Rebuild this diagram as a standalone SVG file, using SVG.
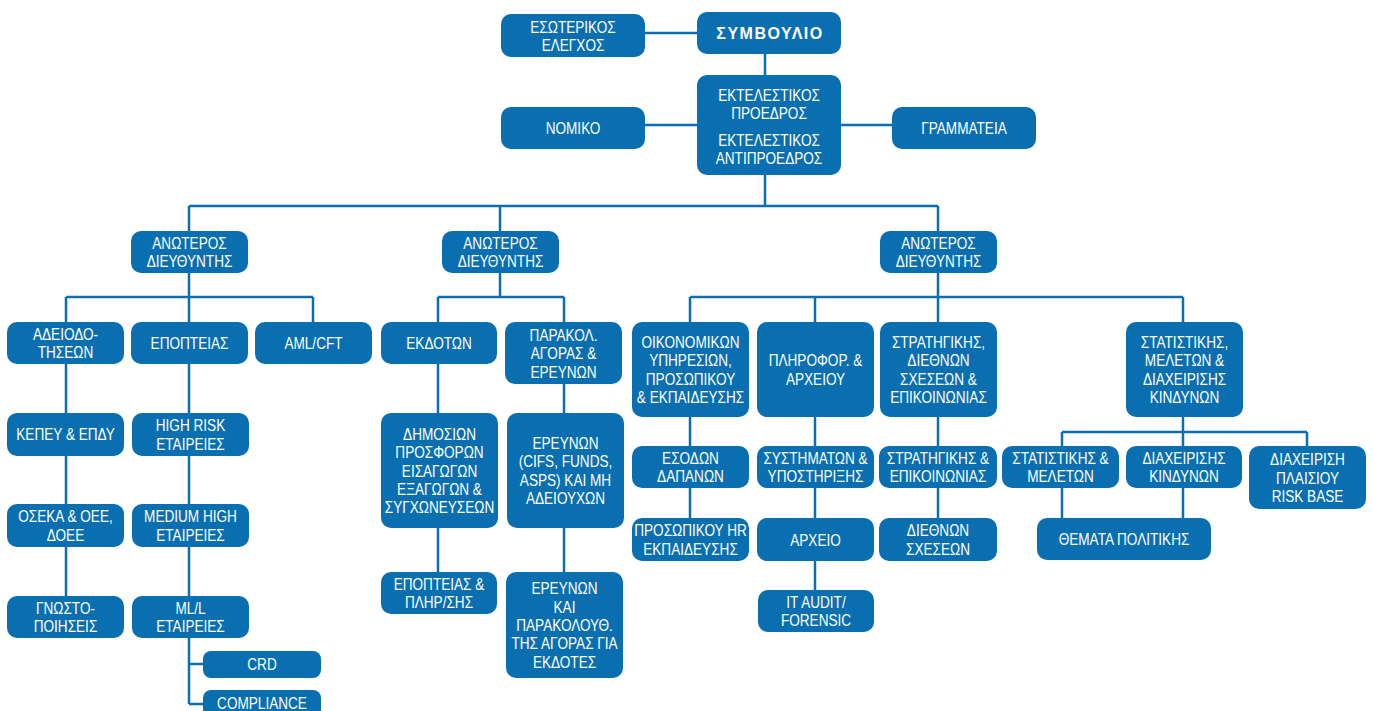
<svg xmlns="http://www.w3.org/2000/svg" width="1373" height="711" viewBox="0 0 1373 711">
<style>
.n rect{fill:#0a6fb0;}
.n text{fill:#ffffff;font-family:"Liberation Sans",Arial,sans-serif;font-size:17px;text-anchor:middle;}
.b text{font-weight:bold;font-size:16px;letter-spacing:1.5px;}
#connectors path{stroke:#0a6fb0;stroke-width:2.5;fill:none;}
</style>
<rect width="1373" height="711" fill="#ffffff"/>
<g id="connectors">
<path d="M645,33H697M765,54V75M645,125H697M841,125H892M765,175V206M189,206H938M189,206V231M500,206V231M938,206V231"/>
<path d="M189,273V297M66,297H313M66,297V322M189,297V322M313,297V322M66,364V596M189,364V704M189,664H203M189,704H203"/>
<path d="M500,273V297M438,297H564M438,297V322M564,297V322M438,364V572M564,384V572"/>
<path d="M938,273V297M690,297H1183M690,297V322M815,297V322M938,297V322M1183,297V322M690,417V518M815,417V590M938,417V518M1183,417V518M1062,432H1307M1062,432V446M1307,432V446M1062,488V518"/>
</g>
<g id="esoterikos" class="n"><rect x="501" y="14" width="144" height="43" rx="10"/><g transform="translate(573 0) scale(0.8 1)"><text x="0" y="33">ΕΣΩΤΕΡΙΚΟΣ</text><text x="0" y="51.5">ΕΛΕΓΧΟΣ</text></g></g>
<g id="symvoulio" class="n b"><rect x="697" y="12" width="144" height="42" rx="10"/><text x="770" y="39">ΣΥΜΒΟΥΛΙΟ</text></g>
<g id="ektelestikos" class="n"><rect x="697" y="75" width="144" height="100" rx="10"/><g transform="translate(769 0) scale(0.8 1)"><text x="0" y="101">ΕΚΤΕΛΕΣΤΙΚΟΣ</text><text x="0" y="119.5">ΠΡΟΕΔΡΟΣ</text><text x="0" y="146">ΕΚΤΕΛΕΣΤΙΚΟΣ</text><text x="0" y="164.5">ΑΝΤΙΠΡΟΕΔΡΟΣ</text></g></g>
<g id="nomiko" class="n"><rect x="501" y="107" width="144" height="42" rx="10"/><g transform="translate(573 0) scale(0.8 1)"><text x="0" y="134">ΝΟΜΙΚΟ</text></g></g>
<g id="grammateia" class="n"><rect x="892" y="107" width="144" height="42" rx="10"/><g transform="translate(964 0) scale(0.8 1)"><text x="0" y="134">ΓΡΑΜΜΑΤΕΙΑ</text></g></g>
<g id="anoteros1" class="n"><rect x="131" y="231" width="117" height="42" rx="10"/><g transform="translate(189.5 0) scale(0.8 1)"><text x="0" y="249">ΑΝΩΤΕΡΟΣ</text><text x="0" y="267.5">ΔΙΕΥΘΥΝΤΗΣ</text></g></g>
<g id="anoteros2" class="n"><rect x="442" y="231" width="117" height="42" rx="10"/><g transform="translate(500.5 0) scale(0.8 1)"><text x="0" y="249">ΑΝΩΤΕΡΟΣ</text><text x="0" y="267.5">ΔΙΕΥΘΥΝΤΗΣ</text></g></g>
<g id="anoteros3" class="n"><rect x="880" y="231" width="117" height="42" rx="10"/><g transform="translate(938.5 0) scale(0.8 1)"><text x="0" y="249">ΑΝΩΤΕΡΟΣ</text><text x="0" y="267.5">ΔΙΕΥΘΥΝΤΗΣ</text></g></g>
<g id="adeiodotiseon" class="n"><rect x="7" y="322" width="117" height="42" rx="10"/><g transform="translate(65.5 0) scale(0.8 1)"><text x="0" y="340">ΑΔΕΙΟΔΟ-</text><text x="0" y="358.5">ΤΗΣΕΩΝ</text></g></g>
<g id="epopteias" class="n"><rect x="131" y="322" width="117" height="42" rx="10"/><g transform="translate(189.5 0) scale(0.8 1)"><text x="0" y="349">ΕΠΟΠΤΕΙΑΣ</text></g></g>
<g id="amlcft" class="n"><rect x="255" y="322" width="117" height="42" rx="10"/><g transform="translate(313.5 0) scale(0.8 1)"><text x="0" y="349">AML/CFT</text></g></g>
<g id="ekdoton" class="n"><rect x="381" y="322" width="116" height="42" rx="10"/><g transform="translate(439 0) scale(0.8 1)"><text x="0" y="349">ΕΚΔΟΤΩΝ</text></g></g>
<g id="parakol" class="n"><rect x="505" y="322" width="117" height="62" rx="10"/><g transform="translate(563.5 0) scale(0.8 1)"><text x="0" y="341">ΠΑΡΑΚΟΛ.</text><text x="0" y="359.3">ΑΓΟΡΑΣ &amp;</text><text x="0" y="377.6">ΕΡΕΥΝΩΝ</text></g></g>
<g id="oikonomikon" class="n"><rect x="632" y="322" width="117" height="95" rx="10"/><g transform="translate(690.5 0) scale(0.8 1)"><text x="0" y="348">ΟΙΚΟΝΟΜΙΚΩΝ</text><text x="0" y="366.3">ΥΠΗΡΕΣΙΩΝ,</text><text x="0" y="384.6">ΠΡΟΣΩΠΙΚΟΥ</text><text x="0" y="402.9">&amp; ΕΚΠΑΙΔΕΥΣΗΣ</text></g></g>
<g id="pliroforikis" class="n"><rect x="757" y="322" width="117" height="95" rx="10"/><g transform="translate(815.5 0) scale(0.8 1)"><text x="0" y="366.5">ΠΛΗΡΟΦΟΡ. &amp;</text><text x="0" y="384.8">ΑΡΧΕΙΟΥ</text></g></g>
<g id="stratigikis" class="n"><rect x="880" y="322" width="117" height="95" rx="10"/><g transform="translate(938.5 0) scale(0.8 1)"><text x="0" y="348">ΣΤΡΑΤΗΓΙΚΗΣ,</text><text x="0" y="366.3">ΔΙΕΘΝΩΝ</text><text x="0" y="384.6">ΣΧΕΣΕΩΝ &amp;</text><text x="0" y="402.9">ΕΠΙΚΟΙΝΩΝΙΑΣ</text></g></g>
<g id="statistikis" class="n"><rect x="1126" y="322" width="117" height="95" rx="10"/><g transform="translate(1184.5 0) scale(0.8 1)"><text x="0" y="348">ΣΤΑΤΙΣΤΙΚΗΣ,</text><text x="0" y="366.3">ΜΕΛΕΤΩΝ &amp;</text><text x="0" y="384.6">ΔΙΑΧΕΙΡΙΣΗΣ</text><text x="0" y="402.9">ΚΙΝΔΥΝΩΝ</text></g></g>
<g id="kepey" class="n"><rect x="7" y="413" width="117" height="43" rx="10"/><g transform="translate(65.5 0) scale(0.8 1)"><text x="0" y="440.5">ΚΕΠΕΥ &amp; ΕΠΔΥ</text></g></g>
<g id="highrisk" class="n"><rect x="132" y="413" width="117" height="43" rx="10"/><g transform="translate(190.5 0) scale(0.8 1)"><text x="0" y="431.5">HIGH RISK</text><text x="0" y="449.8">ΕΤΑΙΡΕΙΕΣ</text></g></g>
<g id="dimosion" class="n"><rect x="381" y="413" width="117" height="115" rx="10"/><g transform="translate(439.5 0) scale(0.8 1)"><text x="0" y="440">ΔΗΜΟΣΙΩΝ</text><text x="0" y="458.3">ΠΡΟΣΦΟΡΩΝ</text><text x="0" y="476.6">ΕΙΣΑΓΩΓΩΝ</text><text x="0" y="494.9">ΕΞΑΓΩΓΩΝ &amp;</text><text x="0" y="513.2">ΣΥΓΧΩΝΕΥΣΕΩΝ</text></g></g>
<g id="erevnon" class="n"><rect x="507" y="413" width="117" height="115" rx="10"/><g transform="translate(565.5 0) scale(0.8 1)"><text x="0" y="449.2">ΕΡΕΥΝΩΝ</text><text x="0" y="467.5">(CIFS, FUNDS,</text><text x="0" y="485.8">ASPS) ΚΑΙ ΜΗ</text><text x="0" y="504.1">ΑΔΕΙΟΥΧΩΝ</text></g></g>
<g id="esodon" class="n"><rect x="632" y="446" width="117" height="42" rx="10"/><g transform="translate(690.5 0) scale(0.8 1)"><text x="0" y="464">ΕΣΟΔΩΝ</text><text x="0" y="482.3">ΔΑΠΑΝΩΝ</text></g></g>
<g id="systimaton" class="n"><rect x="757" y="446" width="117" height="42" rx="10"/><g transform="translate(815.5 0) scale(0.8 1)"><text x="0" y="464">ΣΥΣΤΗΜΑΤΩΝ &amp;</text><text x="0" y="482.3">ΥΠΟΣΤΗΡΙΞΗΣ</text></g></g>
<g id="stratepik" class="n"><rect x="879" y="446" width="118" height="42" rx="10"/><g transform="translate(938 0) scale(0.8 1)"><text x="0" y="464">ΣΤΡΑΤΗΓΙΚΗΣ &amp;</text><text x="0" y="482.3">ΕΠΙΚΟΙΝΩΝΙΑΣ</text></g></g>
<g id="statmeleton" class="n"><rect x="1002" y="446" width="117" height="42" rx="10"/><g transform="translate(1060.5 0) scale(0.8 1)"><text x="0" y="464">ΣΤΑΤΙΣΤΙΚΗΣ &amp;</text><text x="0" y="482.3">ΜΕΛΕΤΩΝ</text></g></g>
<g id="diaxkindynon" class="n"><rect x="1126" y="446" width="116" height="42" rx="10"/><g transform="translate(1184 0) scale(0.8 1)"><text x="0" y="464">ΔΙΑΧΕΙΡΙΣΗΣ</text><text x="0" y="482.3">ΚΙΝΔΥΝΩΝ</text></g></g>
<g id="plaisio" class="n"><rect x="1249" y="446" width="117" height="63" rx="10"/><g transform="translate(1307.5 0) scale(0.8 1)"><text x="0" y="465.3">ΔΙΑΧΕΙΡΙΣΗ</text><text x="0" y="483.6">ΠΛΑΙΣΙΟΥ</text><text x="0" y="501.9">RISK BASE</text></g></g>
<g id="oseka" class="n"><rect x="7" y="504" width="117" height="43" rx="10"/><g transform="translate(65.5 0) scale(0.8 1)"><text x="0" y="522.5">ΟΣΕΚΑ &amp; ΟΕΕ,</text><text x="0" y="540.8">ΔΟΕΕ</text></g></g>
<g id="mediumhigh" class="n"><rect x="132" y="504" width="117" height="43" rx="10"/><g transform="translate(190.5 0) scale(0.8 1)"><text x="0" y="522.5">MEDIUM HIGH</text><text x="0" y="540.8">ΕΤΑΙΡΕΙΕΣ</text></g></g>
<g id="prosopikou" class="n"><rect x="632" y="518" width="117" height="43" rx="10"/><g transform="translate(690.5 0) scale(0.8 1)"><text x="0" y="536.5">ΠΡΟΣΩΠΙΚΟΥ HR</text><text x="0" y="554.8">ΕΚΠΑΙΔΕΥΣΗΣ</text></g></g>
<g id="arxeio" class="n"><rect x="757" y="518" width="117" height="43" rx="10"/><g transform="translate(815.5 0) scale(0.8 1)"><text x="0" y="545.6">ΑΡΧΕΙΟ</text></g></g>
<g id="diethnon" class="n"><rect x="879" y="518" width="118" height="43" rx="10"/><g transform="translate(938 0) scale(0.8 1)"><text x="0" y="536.5">ΔΙΕΘΝΩΝ</text><text x="0" y="554.8">ΣΧΕΣΕΩΝ</text></g></g>
<g id="themata" class="n"><rect x="1037" y="518" width="174" height="42" rx="10"/><g transform="translate(1124 0) scale(0.8 1)"><text x="0" y="545">ΘΕΜΑΤΑ ΠΟΛΙΤΙΚΗΣ</text></g></g>
<g id="epoptpliris" class="n"><rect x="381" y="572" width="116" height="42" rx="10"/><g transform="translate(439 0) scale(0.8 1)"><text x="0" y="590">ΕΠΟΠΤΕΙΑΣ &amp;</text><text x="0" y="608.3">ΠΛΗΡ/ΣΗΣ</text></g></g>
<g id="erevnkai" class="n"><rect x="506" y="572" width="117" height="106" rx="10"/><g transform="translate(564.5 0) scale(0.8 1)"><text x="0" y="594.5">ΕΡΕΥΝΩΝ</text><text x="0" y="612.8">ΚΑΙ</text><text x="0" y="631.1">ΠΑΡΑΚΟΛΟΥΘ.</text><text x="0" y="649.4">ΤΗΣ ΑΓΟΡΑΣ ΓΙΑ</text><text x="0" y="667.7">ΕΚΔΟΤΕΣ</text></g></g>
<g id="itaudit" class="n"><rect x="758" y="590" width="116" height="42" rx="10"/><g transform="translate(816 0) scale(0.8 1)"><text x="0" y="608">IT AUDIT/</text><text x="0" y="626.3">FORENSIC</text></g></g>
<g id="gnostopoiiseis" class="n"><rect x="7" y="596" width="117" height="42" rx="10"/><g transform="translate(65.5 0) scale(0.8 1)"><text x="0" y="614">ΓΝΩΣΤΟ-</text><text x="0" y="632.3">ΠΟΙΗΣΕΙΣ</text></g></g>
<g id="mll" class="n"><rect x="132" y="596" width="117" height="42" rx="10"/><g transform="translate(190.5 0) scale(0.8 1)"><text x="0" y="614">ML/L</text><text x="0" y="632.3">ΕΤΑΙΡΕΙΕΣ</text></g></g>
<g id="crd" class="n"><rect x="203" y="651" width="118" height="27" rx="8"/><g transform="translate(262 0) scale(0.8 1)"><text x="0" y="670.5">CRD</text></g></g>
<g id="compliance" class="n"><rect x="203" y="690" width="118" height="27" rx="8"/><g transform="translate(262 0) scale(0.8 1)"><text x="0" y="709.5">COMPLIANCE</text></g></g>
</svg>
